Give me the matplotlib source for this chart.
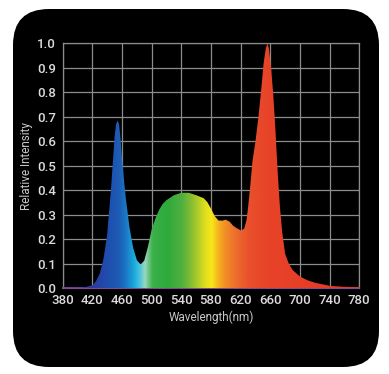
import numpy as np
import matplotlib
matplotlib.use("Agg")
import matplotlib.pyplot as plt
from matplotlib.patches import FancyBboxPatch
from matplotlib.colors import LinearSegmentedColormap

wavelength = [380, 400, 410, 420, 425, 430, 435, 440, 445, 448, 450, 452, 454, 456, 458, 460, 463,
              465, 470, 475, 480, 485, 490, 495, 500, 505, 510, 515, 520, 530, 540, 550, 560,
              570, 575, 580, 585, 590, 595, 600, 605, 610, 615, 621, 625, 628, 630, 633, 636,
              640, 644, 648, 651, 654, 656, 658, 661, 664, 667, 670, 673, 676, 680, 685, 690,
              700, 710, 720, 740, 760, 780]
intensity = [0.004, 0.004, 0.005, 0.012, 0.03, 0.06, 0.12, 0.22, 0.40, 0.53, 0.62, 0.67, 0.685, 0.67, 0.61, 0.53, 0.43,
             0.37, 0.25, 0.165, 0.115, 0.097, 0.113, 0.17, 0.24, 0.285, 0.32, 0.345, 0.36, 0.38, 0.39, 0.39, 0.38,
             0.368, 0.352, 0.325, 0.295, 0.277, 0.276, 0.28, 0.272, 0.255, 0.245, 0.235, 0.245, 0.28, 0.33, 0.42, 0.52,
             0.6, 0.7, 0.82, 0.92, 0.98, 1.0, 0.98, 0.9, 0.79, 0.64, 0.47, 0.33, 0.23, 0.14, 0.1, 0.075,
             0.048, 0.033, 0.023, 0.01, 0.006, 0.004]

x_ticks = [380, 420, 460, 500, 540, 580, 620, 660, 700, 740, 780]
y_ticks = [0.0, 0.1, 0.2, 0.3, 0.4, 0.5, 0.6, 0.7, 0.8, 0.9, 1.0]

color_stops = [(380, "#7a3a98"), (420, "#2a3aa0"), (440, "#1f4fb0"), (455, "#1d5cb5"),
               (465, "#1a7cc8"), (475, "#1aa8dc"), (482, "#40c0e0"), (490, "#9ad8c0"),
               (500, "#3cb04a"), (520, "#2eaa3c"), (540, "#50b040"), (555, "#90c030"),
               (570, "#d8dc20"), (580, "#f8e81a"), (590, "#f5b020"), (600, "#f08a28"),
               (615, "#ec6a2c"), (630, "#e8502c"), (660, "#e84228"), (780, "#e03a2a")]

W, H = 389, 374
fig = plt.figure(figsize=(W / 100, H / 100), dpi=100, facecolor="white")

bgax = fig.add_axes([0, 0, 1, 1], zorder=-5)
bgax.set_xlim(0, W)
bgax.set_ylim(0, H)
bgax.axis("off")
bg = FancyBboxPatch((13, 7), 366, 358, boxstyle="round,pad=0,rounding_size=36",
                    facecolor="black", edgecolor="none")
bgax.add_patch(bg)

ax = fig.add_axes([62.7 / W, 85.7 / H, (359.3 - 62.7) / W, (288.3 - 43.3) / H], zorder=1)
ax.set_facecolor("black")
ax.set_xlim(380, 780)
ax.set_ylim(0, 1.0)

grid_color = "#8c8c8c"
ax.set_xticks(x_ticks)
ax.set_yticks(y_ticks)
ax.grid(True, color=grid_color, linewidth=0.9)
ax.set_axisbelow(True)
for s in ax.spines.values():
    s.set_color(grid_color)
    s.set_linewidth(0.9)
ax.spines["bottom"].set_color("#8a4a9a")
ax.spines["bottom"].set_linewidth(1.4)

cmap = LinearSegmentedColormap.from_list(
    "spec", [((w - 380) / 400, c) for w, c in color_stops])
grad = np.linspace(0, 1, 800).reshape(1, -1)
im = ax.imshow(grad, extent=[380, 780, 0, 1], aspect="auto", cmap=cmap,
               origin="lower", zorder=3, interpolation="bilinear")
poly = ax.fill_between(wavelength, intensity, 0, color="none", lw=0)
clip = poly.get_paths()[0]
im.set_clip_path(clip, transform=ax.transData)

font = "Roboto"
ax.set_xticklabels([str(t) for t in x_ticks], fontsize=9.5, color="#dcdcdc",
                   family=font, weight="medium")
ax.set_yticklabels([f"{t:.1f}" for t in y_ticks], fontsize=9.5, color="#dcdcdc",
                   family=font, weight="medium")
ax.tick_params(axis="x", length=0, pad=4)
ax.tick_params(axis="y", length=0, pad=5)
ax.set_xlabel("Wavelength(nm)", fontsize=8.5, color="#c8c8c8", family=font, labelpad=3)
ax.set_ylabel("Relative Intensity", fontsize=8.5, color="#c8c8c8", family=font, labelpad=3)

fig.savefig("out.png", dpi=100, facecolor="white")
